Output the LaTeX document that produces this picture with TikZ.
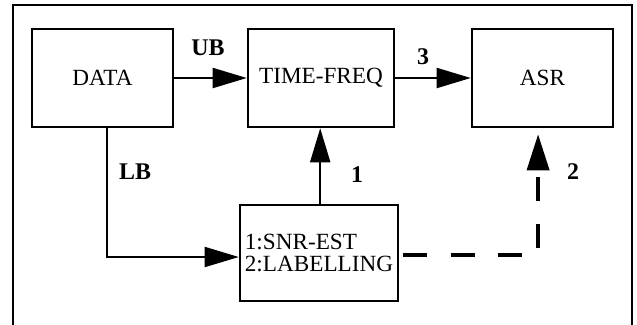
\documentclass[tikz,border=0pt]{standalone}
\usepackage{fontspec}
\setmainfont{Liberation Serif}
\usetikzlibrary{arrows.meta}

\begin{document}
\begin{tikzpicture}[x=0.025cm, y=-0.025cm]
    % Define styles
    \tikzstyle{block} = [rectangle, draw=black, line width=1.8pt, minimum height=2.45cm, align=center, font=\fontsize{16.5pt}{15pt}\selectfont]
    \tikzstyle{arr} = [line width=1.4pt, -{Triangle[length=0.85cm, width=0.5cm]}]
    \tikzstyle{dasharr} = [line width=2.6pt, dash pattern=on 0.6cm off 0.58cm, -{Triangle[length=0.9cm, width=0.55cm]}]
    \tikzstyle{lbl} = [font=\fontsize{17pt}{17pt}\selectfont\bfseries]

    \useasboundingbox (0,0) rectangle (637,324);

    % Outer frame
    \draw[line width=1.8pt] (13,340) -- (13,5) -- (632,5) -- (632,340);

    % Boxes
    \node[block, minimum width=3.525cm] (data) at (102.5, 78) {DATA};
    \node[block, minimum width=3.65cm] (tf) at (321, 78) {TIME-FREQ};
    \node[block, minimum width=3.525cm] (asr) at (542.5, 78) {ASR};
    \node[block, minimum width=3.95cm, minimum height=2.4cm, align=left] (snr) at (319, 253) {1:SNR-EST\\2:LABELLING};

    % Connectors
    \draw[arr] (data) -- (tf);
    \draw[arr] (tf) -- (asr);
    \draw[arr] ([xshift=0.11cm]data.south) |- ([yshift=-0.1cm]snr.west);
    \draw[arr] ([xshift=0.03cm]snr.north) -- ([xshift=0.03cm]snr.north |- tf.south);
    \draw[dasharr] ([xshift=0.1cm, yshift=-0.05cm]snr.east) -| ([xshift=-0.11cm, yshift=-0.15cm]asr.south);

    % Labels
    \node[lbl] (ub) at (208, 48) {UB};
    \node[lbl] (three) at (423, 57) {3};
    \node[lbl] (lb) at (135, 172) {LB};
    \node[lbl] (one) at (357, 175) {1};
    \node[lbl] (two) at (573, 172) {2};

\end{tikzpicture}
\end{document}
